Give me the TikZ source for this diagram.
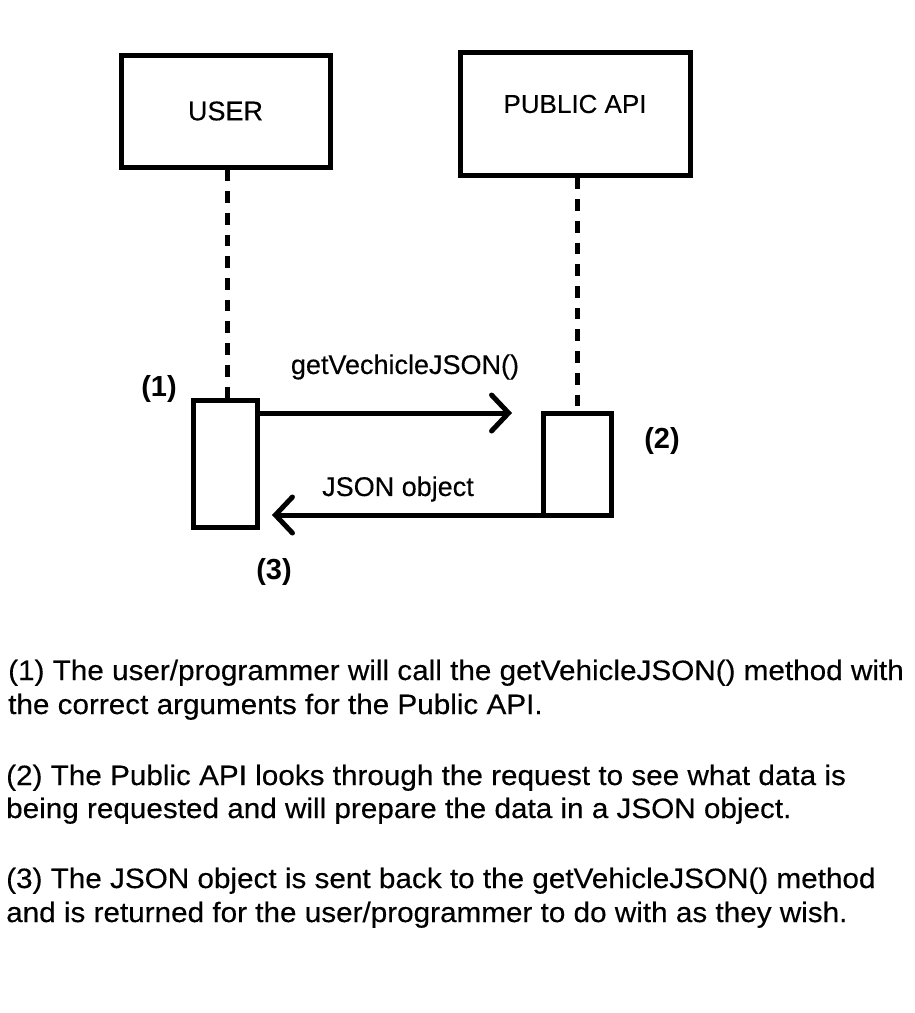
\documentclass[tikz,border=0pt]{standalone}
\usepackage{fontspec}
\setmainfont{Liberation Sans}
\newfontfamily\regfont[FakeBold=0.3]{Liberation Sans}
\newfontfamily\widefont[FakeStretch=1.06,FakeBold=0.3]{Liberation Sans}
\usetikzlibrary{arrows.meta}
\begin{document}
\begin{tikzpicture}[x=1pt,y=-1pt,
  box/.style={draw,line width=5pt,inner sep=0pt,outer sep=0pt,fill=white},
  lifeline/.style={line width=5pt,dash pattern=on 11.7pt off 10pt},
  msg/.style={line width=5pt,-{Straight Barb[length=17pt,width=36pt,line width=5pt,line cap=round]}},
  lbl/.style={inner sep=0pt,font=\regfont\fontsize{27}{32}\selectfont},
  num/.style={inner sep=0pt,font=\fontsize{29}{34}\selectfont\bfseries},
  para/.style={inner sep=0pt,anchor=base west,font=\widefont\fontsize{28}{33.5}\selectfont}]
\useasboundingbox (0,0) rectangle (915,1013);
\fill[white] (0,0) rectangle (915,1013);
% actors
\node[box,minimum width=209pt,minimum height=112pt,font=\regfont\fontsize{27}{32}\selectfont] (user) at (225.5,111) {USER};
\node[box,minimum width=230pt,minimum height=123pt] (api) at (575,113.5) {};
\node[lbl,font=\regfont\fontsize{26}{31}\selectfont] (apitext) at (575,104) {PUBLIC API};
% activations
\node[box,minimum width=64pt,minimum height=127pt] (ua) at (225,463.5) {};
\node[box,minimum width=68pt,minimum height=102pt] (aa) at (577,464) {};
% lifelines
\draw[lifeline] (user.south) ++(2,2.5) coordinate (us) -- (us |- ua.north);
\draw[lifeline] (api.south) ++(2,2.5) coordinate (as) -- (as |- aa.north);
% messages
\draw[msg,shorten >=31pt] (ua.east |- aa.north) -- (aa.north west);
\draw[msg,shorten >=15pt] (aa.south west) -- (ua.east |- aa.south);
\node[lbl] (m1) at (405,367) {getVechicleJSON()};
\node[lbl] (m2) at (398,489) {JSON object};
\node[num] (n1) at (159,389) {(1)};
\node[num] (n2) at (662,441) {(2)};
\node[num] (n3) at (274,572) {(3)};
% notes
\node[para] (p1a) at (8,680) {(1) The user/programmer will call the getVehicleJSON() method with};
\node[para] (p1b) at (8,714) {the correct arguments for the Public API.};
\node[para] (p2a) at (6,785) {(2) The Public API looks through the request to see what data is};
\node[para] (p2b) at (6,818) {being requested and will prepare the data in a JSON object.};
\node[para] (p3a) at (6,888) {(3) The JSON object is sent back to the getVehicleJSON() method};
\node[para] (p3b) at (6,922) {and is returned for the user/programmer to do with as they wish.};
\end{tikzpicture}
\end{document}
